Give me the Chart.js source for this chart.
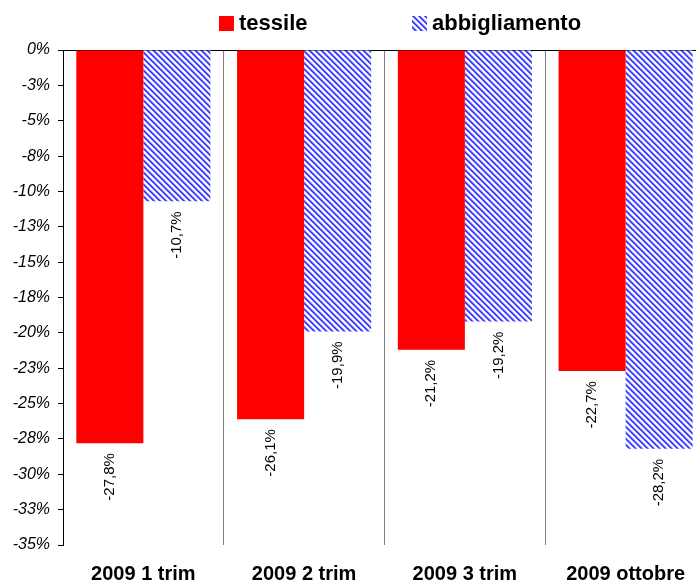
<!DOCTYPE html>
<html>
<head>
<meta charset="utf-8">
<script src="https://cdn.jsdelivr.net/npm/chart.js@4"></script>
<style>
  html, body { margin: 0; padding: 0; overflow: hidden; background: #fff; }
</style>
</head>
<body>
<canvas id="myChart" width="706" height="582"></canvas>
<script>
const categorie = ["2009 1 trim", "2009 2 trim", "2009 3 trim", "2009 ottobre"];
const tessile = [-27.8, -26.1, -21.2, -22.7];
const abbigliamento = [-10.7, -19.9, -19.2, -28.2];
const yTickLabels = ["0%", "-3%", "-5%", "-8%", "-10%", "-13%", "-15%", "-18%", "-20%", "-23%", "-25%", "-28%", "-30%", "-33%", "-35%"];

const FONT = "Arial, 'Liberation Sans', sans-serif";
const canvas = document.getElementById("myChart");
const ctxMain = canvas.getContext("2d");

// tratteggio blu diagonale
function hatch(){
  const n = 6;
  const shades = ["#6a6aff", "#2f2fff", "#7474ff", "#d8d8ff"];
  const c = document.createElement("canvas");
  c.width = n; c.height = n;
  const g = c.getContext("2d");
  g.fillStyle = "#fff";
  g.fillRect(0, 0, n, n);
  for (let y = 0; y < n; y++) {
    for (let x = 0; x < n; x++) {
      const d = ((x - y) % n + n) % n;
      if (d < shades.length) { g.fillStyle = shades[d]; g.fillRect(x, y, 1, 1); }
    }
  }
  return ctxMain.createPattern(c, "repeat");
}
const blu = hatch();

const formatta = v => v.toFixed(1).replace(".", ",") + "%";

const valueLabels = {
  id: "valueLabels",
  afterDatasetsDraw(chart){
    const ctx = chart.ctx;
    ctx.save();
    ctx.font = "15px " + FONT;
    ctx.fillStyle = "#000";
    ctx.textAlign = "right";
    ctx.textBaseline = "middle";
    chart.data.datasets.forEach((ds, i) => {
      chart.getDatasetMeta(i).data.forEach((bar, j) => {
        ctx.save();
        ctx.translate(bar.x, bar.y + 10);
        ctx.rotate(-Math.PI / 2);
        ctx.fillText(formatta(ds.data[j]), 0, 0);
        ctx.restore();
      });
    });
    ctx.restore();
  }
};

const legenda = {
  id: "legenda",
  afterDraw(chart){
    const ctx = chart.ctx;
    const items = [[chart.data.datasets[0], 219], [chart.data.datasets[1], 412]];
    ctx.save();
    ctx.font = "bold 22px " + FONT;
    ctx.textBaseline = "middle";
    items.forEach(([ds, x]) => {
      ctx.fillStyle = ds.backgroundColor;
      ctx.fillRect(x, 16, 15, 15);
      ctx.fillStyle = "#000";
      ctx.fillText(ds.label, x + 20, 24);
    });
    ctx.restore();
  }
};

new Chart(canvas, {
  type: "bar",
  data: {
    labels: categorie,
    datasets: [
      { label: "tessile", data: tessile, backgroundColor: "#ff0000", borderWidth: 0 },
      { label: "abbigliamento", data: abbigliamento, backgroundColor: blu, borderWidth: 0 }
    ]
  },
  options: {
    responsive: false,
    animation: false,
    categoryPercentage: 0.834,
    barPercentage: 1,
    layout: { padding: { top: 50, left: 0, right: 0, bottom: 0 } },
    plugins: {
      legend: { display: false },
      tooltip: { enabled: false }
    },
    scales: {
      x: {
        grid: { offset: true, color: "#808080", drawTicks: false },
        border: { display: false },
        ticks: {
          color: "#000",
          padding: 17,
          maxRotation: 0,
          font: { family: FONT, size: 20, weight: "bold" }
        },
        afterFit(s){ s.height = 37; }
      },
      y: {
        min: -35,
        max: 0,
        ticks: {
          stepSize: 2.5,
          color: "#000",
          padding: 8,
          font: { family: FONT, size: 16, style: "italic" },
          callback: v => yTickLabels[Math.round(-v / 2.5)]
        },
        grid: {
          color: c => (c.tick && c.tick.value === 0) ? "#000" : "rgba(0,0,0,0)",
          tickColor: "#000",
          tickLength: 5
        },
        border: { display: true, color: "#000" },
        afterFit(s){ s.width = 63; }
      }
    }
  },
  plugins: [valueLabels, legenda]
});
</script>
</body>
</html>
